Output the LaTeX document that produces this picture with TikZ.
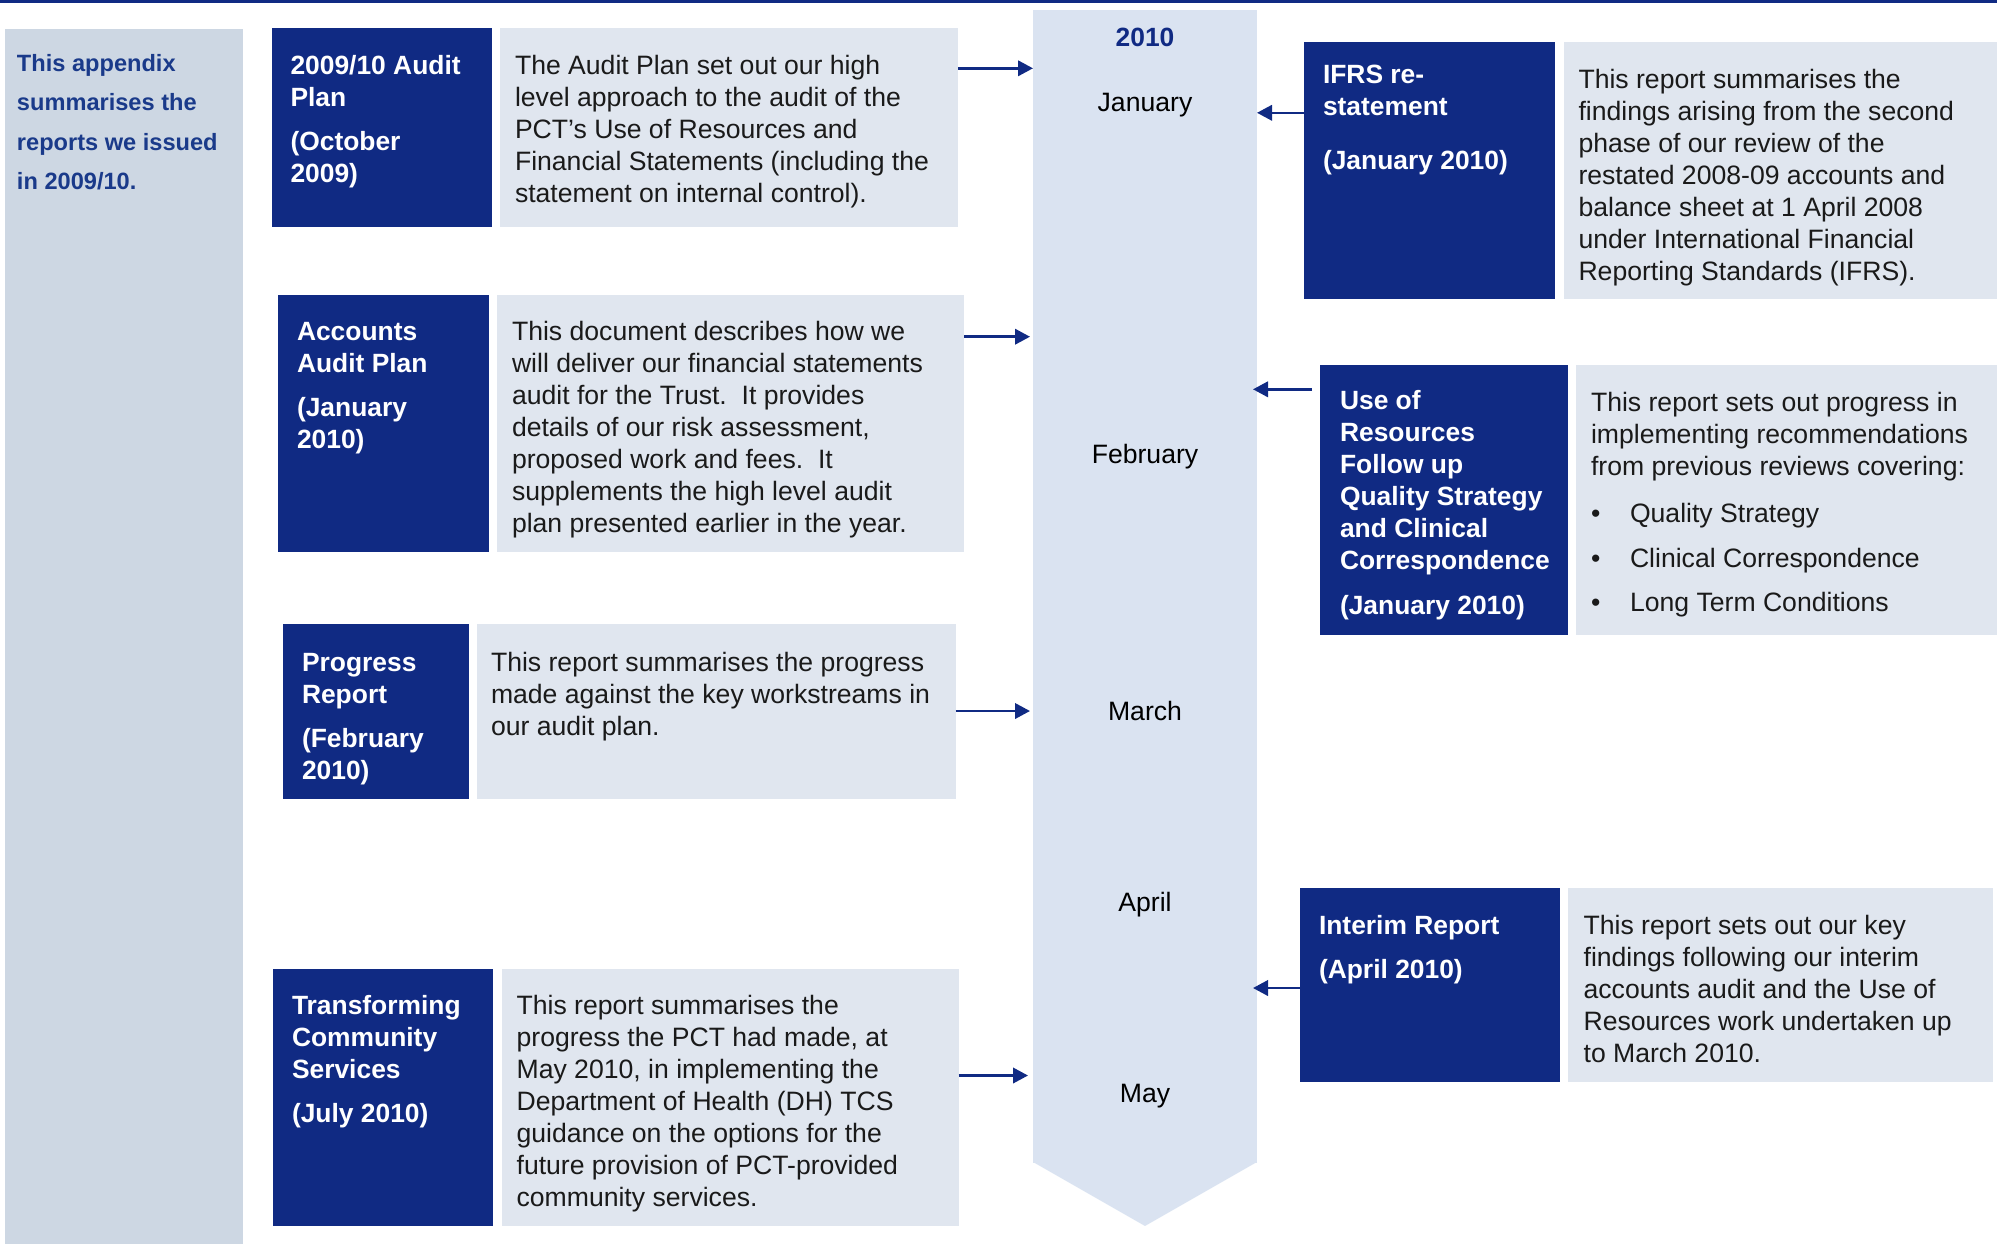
\documentclass[tikz,border=0pt]{standalone}
\usepackage{fontspec}
\setmainfont{Liberation Sans}
\usetikzlibrary{arrows.meta,fit,calc}
\definecolor{kblue}{HTML}{102A83}
\definecolor{sidetext}{HTML}{1A3A8A}
\definecolor{lightbox}{HTML}{E0E6EF}
\definecolor{tlcol}{HTML}{DAE3F1}
\definecolor{sidecol}{HTML}{CDD7E3}
\definecolor{bodytext}{HTML}{1A1A1A}
\begin{document}
\begin{tikzpicture}[x=0.5pt,y=-0.5pt,
  box/.style={inner sep=0pt, outer sep=0pt},
  dark/.style={box, fill=kblue},
  light/.style={box, fill=lightbox},
  head/.style={anchor=north west, inner sep=0pt, outer sep=0pt, align=left, text=white, font=\fontsize{13.2}{16}\selectfont\bfseries},
  body/.style={anchor=north west, inner sep=0pt, outer sep=0pt, align=left, text=bodytext, font=\fontsize{13.3}{16}\selectfont},
  month/.style={anchor=base, inner sep=0pt, font=\fontsize{13.3}{16}\selectfont},
  arr/.style={draw=kblue, line width=1.25pt, -{Triangle[length=7.5pt,width=7.7pt]}}
]
\useasboundingbox (0,0) rectangle (1997,1244);
% top rule
\draw[kblue, line width=1.5pt] (0,1.5) -- (1997,1.5);
% sidebar
\node[box, fill=sidecol, fit={(5,29)(243,1244)}] (side) {};
\node[anchor=north west, inner sep=0pt, align=left, text=sidetext, font=\fontsize{11.8}{19.7}\selectfont\bfseries] (sidetxt) at (16.6,43.4)
  {\strut This appendix\\summarises the\\reports we issued\\in 2009/10.};
% timeline
\node[box, fill=tlcol, fit={(1033,10)(1257,1163)}] (TL) {};
\fill[tlcol] ($(TL.south west)+(0,-1)$) -- ($(TL.south east)+(0,-1)$) -- ($(TL.south)+(0,63)$) -- cycle;
\node[month, font=\fontsize{13.2}{16}\selectfont\bfseries, text=kblue] (y2010) at (1145,46.6) {2010};
\node[month] (jan) at (1145,111) {January};
\node[month] (feb) at (1145,463) {February};
\node[month] (mar) at (1145,720) {March};
\node[month] (apr) at (1145,911) {April};
\node[month] (may) at (1145,1102) {May};
% left boxes
\node[dark, fit={(272,28)(492,227)}] (K1) {};
\node[light, fit={(500,28)(958,227)}] (L1) {};
\node[head] (H1) at (290.5,51.8) {\strut 2009/10 Audit\\Plan\\[6.3pt](October\\2009)};
\node[body] (B1) at (515,51.8) {\strut The Audit Plan set out our high\\level approach to the audit of the\\PCT’s Use of Resources and\\Financial Statements (including the\\statement on internal control).};

\node[dark, fit={(278,295)(489,552)}] (K2) {};
\node[light, fit={(497.4,295)(964,552)}] (L2) {};
\node[head] (H2) at (297,317.8) {\strut Accounts\\Audit Plan\\[6.3pt](January\\2010)};
\node[body] (B2) at (512,317.8) {\strut This document describes how we\\will deliver our financial statements\\audit for the Trust.\ \ It provides\\details of our risk assessment,\\proposed work and fees.\ \ It\\supplements the high level audit\\plan presented earlier in the year.};

\node[dark, fit={(283,624)(469,799)}] (K3) {};
\node[light, fit={(477,624)(955.5,799)}] (L3) {};
\node[head] (H3) at (302,648.9) {\strut Progress\\Report\\[6.3pt](February\\2010)};
\node[body] (B3) at (491,648.9) {\strut This report summarises the progress\\made against the key workstreams in\\our audit plan.};

\node[dark, fit={(273,969)(493,1226)}] (K4) {};
\node[light, fit={(502,969)(958.5,1226)}] (L4) {};
\node[head] (H4) at (292,991.8) {\strut Transforming\\Community\\Services\\[6.3pt](July 2010)};
\node[body] (B4) at (516.6,991.8) {\strut This report summarises the\\progress the PCT had made, at\\May 2010, in implementing the\\Department of Health (DH) TCS\\guidance on the options for the\\future provision of PCT-provided\\community services.};

% right boxes
\node[dark, fit={(1304,42)(1555,299)}] (KR1) {};
\node[light, fit={(1564,42)(1997,299)}] (LR1) {};
\node[head] (HR1) at (1323,61.5) {\strut IFRS re-\\statement\\[11pt](January 2010)};
\node[body] (BR1) at (1578.5,66) {\strut This report summarises the\\findings arising from the second\\phase of our review of the\\restated 2008-09 accounts and\\balance sheet at 1 April 2008\\under International Financial\\Reporting Standards (IFRS).};

\node[dark, fit={(1320,365)(1568,635)}] (KR2) {};
\node[light, fit={(1576,365)(1997,635)}] (LR2) {};
\node[head] (HR2) at (1340,387.5) {\strut Use of\\Resources\\Follow up\\Quality Strategy\\and Clinical\\Correspondence\\[6.4pt](January 2010)};
\node[body] (BR2) at (1591,389.5) {\strut This report sets out progress in\\implementing recommendations\\from previous reviews covering:\\[7.2pt]\makebox[19.5pt][l]{•}Quality Strategy\\[6.4pt]\makebox[19.5pt][l]{•}Clinical Correspondence\\[6.4pt]\makebox[19.5pt][l]{•}Long Term Conditions};

\node[dark, fit={(1300,888)(1560,1082)}] (KR3) {};
\node[light, fit={(1568,888)(1993,1082)}] (LR3) {};
\node[head] (HR3) at (1319,911.7) {\strut Interim Report\\[6.2pt](April 2010)};
\node[body] (BR3) at (1583.6,911.7) {\strut This report sets out our key\\findings following our interim\\accounts audit and the Use of\\Resources work undertaken up\\to March 2010.};

% arrow heights
\coordinate (a1) at (0,68.3);
\coordinate (a2) at (0,336.7);
\coordinate (a3) at (0,711);
\coordinate (a4) at (0,1075.5);
\coordinate (b1) at (0,112.8);
\coordinate (b2) at (0,389.3);
\coordinate (b3) at (0,988);
% connectors
\draw[arr] (L1.east |- a1) -- (TL.west |- a1);
\draw[arr, shorten >=1.5pt] (L2.east |- a2) -- (TL.west |- a2);
\draw[arr, shorten >=1.5pt] (L3.east |- a3) -- (TL.west |- a3);
\draw[arr, shorten >=2.5pt] (L4.east |- a4) -- (TL.west |- a4);
\draw[arr] (KR1.west |- b1) -- (TL.east |- b1);
\draw[arr, shorten <=4pt, shorten >=-2pt] (KR2.west |- b2) -- (TL.east |- b2);
\draw[arr, shorten >=-2pt] (KR3.west |- b3) -- (TL.east |- b3);
\end{tikzpicture}
\end{document}
